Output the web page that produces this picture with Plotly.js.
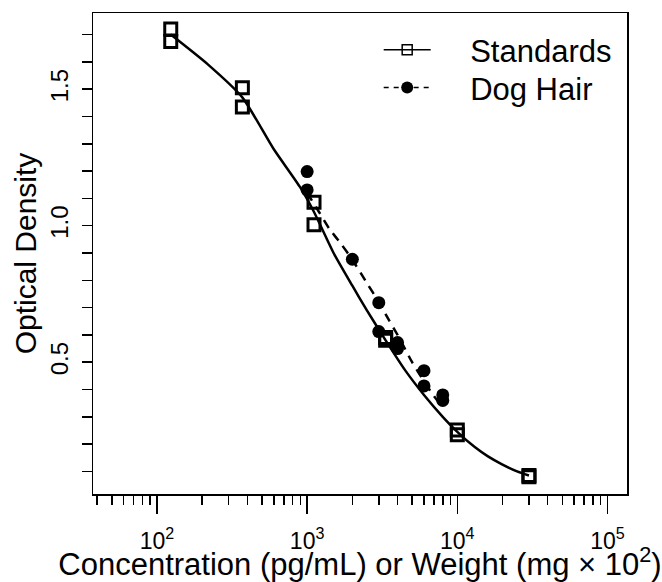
<!DOCTYPE html>
<html>
<head>
<meta charset="utf-8">
<script src="https://cdn.plot.ly/plotly-3.0.1.min.js"></script>
<style>html,body{margin:0;padding:0;background:#fff;}#chart{width:662px;height:582px;}</style>
</head>
<body>
<div id="chart"></div>
<script>
// Standards (open squares)
const stdX = [123.5, 123.5, 370.4, 370.4, 1111, 1111, 3333, 3333, 10000, 10000, 30000, 30000];
const stdY = [1.72, 1.675, 1.505, 1.435, 1.086, 1.003, 0.59, 0.58, 0.252, 0.234, 0.085, 0.08];
// Dog hair (filled circles)
const dogX = [1000, 1000, 2000, 3000, 3000, 4000, 4000, 6000, 6000, 8000, 8000];
const dogY = [1.198, 1.131, 0.877, 0.718, 0.612, 0.572, 0.55, 0.469, 0.413, 0.38, 0.36];
// Fitted standard curve (solid)
const stdCurveX = [123.5, 219, 370, 600, 900, 1111, 1500, 2000, 2500, 3333, 4500, 6000, 8000, 10000, 13000, 16000, 20000, 25000, 30000];
const stdCurveY = [1.70, 1.59, 1.47, 1.28, 1.14, 1.05, 0.90, 0.78, 0.69, 0.58, 0.47, 0.38, 0.30, 0.245, 0.19, 0.155, 0.125, 0.10, 0.085];
// Fitted dog hair curve (dashed)
const dogCurveX = [1000, 1200, 1400, 1700, 2000, 2500, 3000, 3500, 4000, 5000, 6000, 7000, 8000];
const dogCurveY = [1.12, 1.05, 0.99, 0.93, 0.875, 0.79, 0.72, 0.655, 0.60, 0.50, 0.43, 0.375, 0.335];
// Axis ticks
const xMajorVals = [100, 1000, 10000, 100000];
const xMajorText = ['10<sup>2</sup>', '10<sup>3</sup>', '10<sup>4</sup>', '10<sup>5</sup>'];
const xMinorVals = [40, 50, 60, 70, 80, 90, 200, 300, 400, 500, 600, 700, 800, 900,
  2000, 3000, 4000, 5000, 6000, 7000, 8000, 9000, 20000, 30000, 40000, 50000, 60000, 70000, 80000, 90000];
const yMajorVals = [0.5, 1.0, 1.5];
const yMajorText = ['0.5', '1.0', '1.5'];
const yMinorVals = [0.1, 0.2, 0.3, 0.4, 0.6, 0.7, 0.8, 0.9, 1.1, 1.2, 1.3, 1.4, 1.6, 1.7];
const seriesNames = ['Standards', 'Dog Hair'];

const FONT = 'Liberation Sans, Arial, Helvetica, sans-serif';
const PAD = '\u00a0\u00a0\u00a0\u00a0';

const traces = [
  {x: stdCurveX, y: stdCurveY, mode: 'lines', line: {color: 'black', width: 2.5, shape: 'spline', smoothing: 0.6}, showlegend: false, hoverinfo: 'skip'},
  {x: dogCurveX, y: dogCurveY, mode: 'lines', line: {color: 'black', width: 2.5, dash: '9px,7px', shape: 'spline', smoothing: 0.6}, showlegend: false, hoverinfo: 'skip'},
  {x: stdX, y: stdY, mode: 'markers', marker: {symbol: 'square-open', size: 12, color: 'black', line: {width: 3, color: 'black'}}, showlegend: false},
  {x: dogX, y: dogY, mode: 'markers', marker: {symbol: 'circle', size: 13, color: 'black'}, showlegend: false},
  // legend entries
  {x: [null], y: [null], name: PAD + seriesNames[0], legend: 'legend', mode: 'lines+markers', line: {color: 'black', width: 1.5},
   marker: {symbol: 'square-open', size: 10, color: 'black', line: {width: 1.5, color: 'black'}}},
  {x: [null], y: [null], name: PAD + seriesNames[1], legend: 'legend2', mode: 'lines+markers', line: {color: 'black', width: 1.5, dash: '5px,5px'},
   marker: {symbol: 'circle', size: 12, color: 'black'}}
];

const legendBase = {xanchor: 'left', yanchor: 'top', bgcolor: 'rgba(0,0,0,0)',
  font: {family: FONT, size: 31, color: 'black'}, itemwidth: 47};

const layout = {
  width: 662, height: 582,
  margin: {l: 93, r: 35, t: 13, b: 88, pad: 0},
  paper_bgcolor: 'white', plot_bgcolor: 'white',
  font: {family: FONT, color: 'black'},
  showlegend: true,
  legend: Object.assign({x: 0.535, y: 0.979}, legendBase),
  legend2: Object.assign({x: 0.535, y: 0.9003}, legendBase),
  xaxis: {
    type: 'log', range: [1.574, 5.13], autorange: false,
    showline: true, mirror: true, linecolor: 'black', linewidth: 1.5,
    showgrid: false, zeroline: false,
    ticks: 'outside', ticklen: 18, tickwidth: 1.5, tickcolor: 'black',
    tickmode: 'array', tickvals: xMajorVals, ticktext: xMajorText,
    tickfont: {family: FONT, size: 23, color: 'black'},
    ticklabelstandoff: 8,
    minor: {tickmode: 'array', tickvals: xMinorVals, ticks: 'outside', ticklen: 9, tickwidth: 1.5, tickcolor: 'black', showgrid: false},
    title: {text: 'Concentration (pg/mL) or Weight (mg \u00d7 10<sup>2</sup>)', font: {family: FONT, size: 31, color: 'black'}, standoff: 0}
  },
  yaxis: {
    range: [0.0172, 1.779], autorange: false,
    showline: true, mirror: true, linecolor: 'black', linewidth: 1.5,
    showgrid: false, zeroline: false,
    ticks: 'outside', ticklen: 10, tickwidth: 1.5, tickcolor: 'black',
    tickmode: 'array', tickvals: yMajorVals, ticktext: yMajorText, tickangle: -90,
    tickfont: {family: FONT, size: 24, color: 'black'},
    ticklabelstandoff: 4,
    minor: {tickmode: 'array', tickvals: yMinorVals, ticks: 'outside', ticklen: 10, tickwidth: 1.5, tickcolor: 'black', showgrid: false},
    title: {text: 'Optical Density', font: {family: FONT, size: 30, color: 'black'}, standoff: 0}
  }
};

Plotly.newPlot('chart', traces, layout, {displayModeBar: false, staticPlot: true});
</script>
</body>
</html>
